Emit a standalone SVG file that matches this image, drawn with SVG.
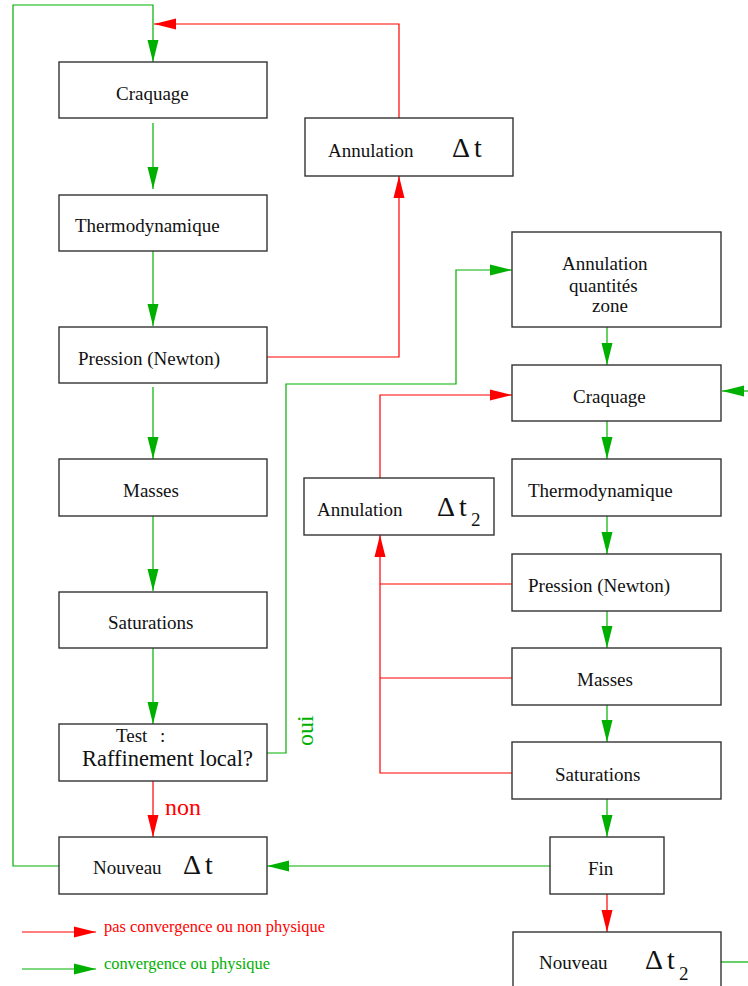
<svg xmlns="http://www.w3.org/2000/svg" width="748" height="986" viewBox="0 0 748 986">
<style>
.box{fill:#fff;stroke:#333;stroke-width:1.4}
.g{fill:none;stroke:#00b000;stroke-width:1.2}
.r{fill:none;stroke:#ff0000;stroke-width:1.2}
text{font-family:"Liberation Serif","Times New Roman",serif;fill:#111;font-size:19px}
.d{font-size:28px}
.s{font-size:19px}
</style>
<defs>
<marker id="ag" markerUnits="userSpaceOnUse" markerWidth="22" markerHeight="12" refX="22" refY="6" orient="auto"><path d="M0,0.5 L22,6 L0,11.5 z" fill="#00b000"/></marker>
<marker id="ar" markerUnits="userSpaceOnUse" markerWidth="22" markerHeight="12" refX="22" refY="6" orient="auto"><path d="M0,0.5 L22,6 L0,11.5 z" fill="#ff0000"/></marker>
</defs>
<rect width="748" height="986" fill="#fff"/>
<g id="connectors">
<path class="g" d="M59,866 H13 V5 H153 V62" marker-end="url(#ag)"/>
<path class="g" d="M153,123 V189" marker-end="url(#ag)"/>
<path class="g" d="M153,251 V326" marker-end="url(#ag)"/>
<path class="g" d="M153,387 V459" marker-end="url(#ag)"/>
<path class="g" d="M153,516 V591" marker-end="url(#ag)"/>
<path class="g" d="M153,648 V724" marker-end="url(#ag)"/>
<path class="g" d="M267,753 H286 V384 H456 V270 H512" marker-end="url(#ag)"/>
<path class="g" d="M607,327 V365" marker-end="url(#ag)"/>
<path class="g" d="M607,421 V459" marker-end="url(#ag)"/>
<path class="g" d="M607,516 V554" marker-end="url(#ag)"/>
<path class="g" d="M607,611 V648" marker-end="url(#ag)"/>
<path class="g" d="M607,705 V742" marker-end="url(#ag)"/>
<path class="g" d="M607,799 V837" marker-end="url(#ag)"/>
<path class="g" d="M550,866 H267" marker-end="url(#ag)"/>
<path class="g" d="M748,391 H722" marker-end="url(#ag)"/>
<path class="g" d="M721,962 H748"/>
<path class="r" d="M153,781 V837" marker-end="url(#ar)"/>
<path class="r" d="M267,357 H399 V176" marker-end="url(#ar)"/>
<path class="r" d="M399,118 V24 H154" marker-end="url(#ar)"/>
<path class="r" d="M380,478 V395 H512" marker-end="url(#ar)"/>
<path class="r" d="M512,584 H380 M512,678 H380"/>
<path class="r" d="M512,773 H380 V535" marker-end="url(#ar)"/>
<path class="r" d="M607,894 V932" marker-end="url(#ar)"/>
</g>
<g id="n-craquage1"><rect class="box" x="59" y="62" width="208" height="56"/><text x="116" y="100">Craquage</text></g>
<g id="n-thermo1"><rect class="box" x="59" y="195" width="208" height="56"/><text x="75" y="232">Thermodynamique</text></g>
<g id="n-pression1"><rect class="box" x="59" y="327" width="208" height="56"/><text x="78" y="365">Pression (Newton)</text></g>
<g id="n-masses1"><rect class="box" x="59" y="459" width="208" height="57"/><text x="123" y="497">Masses</text></g>
<g id="n-saturations1"><rect class="box" x="59" y="592" width="208" height="56"/><text x="108" y="629">Saturations</text></g>
<g id="n-test"><rect class="box" x="59" y="724" width="208" height="57"/><text x="116" y="742">Test<tspan x="160">:</tspan></text><text x="82" y="766" style="font-size:22.5px" textLength="171" lengthAdjust="spacingAndGlyphs">Raffinement local?</text></g>
<g id="n-nouveau1"><rect class="box" x="59" y="837" width="208" height="57"/><text x="93" y="874">Nouveau</text><text class="d" x="183" y="874">Δ<tspan x="205">t</tspan></text></g>
<g id="n-annul1"><rect class="box" x="305" y="118" width="208" height="58"/><text x="328" y="157">Annulation</text><text class="d" x="452" y="157">Δ<tspan x="474">t</tspan></text></g>
<g id="n-annulzone"><rect class="box" x="512" y="232" width="209" height="95"/><text x="562" y="270">Annulation</text><text x="569" y="292">quantités</text><text x="592" y="312">zone</text></g>
<g id="n-craquage2"><rect class="box" x="512" y="365" width="209" height="56"/><text x="573" y="403">Craquage</text></g>
<g id="n-thermo2"><rect class="box" x="512" y="459" width="209" height="57"/><text x="528" y="497">Thermodynamique</text></g>
<g id="n-pression2"><rect class="box" x="512" y="554" width="209" height="57"/><text x="528" y="592">Pression (Newton)</text></g>
<g id="n-masses2"><rect class="box" x="512" y="648" width="209" height="57"/><text x="577" y="686">Masses</text></g>
<g id="n-saturations2"><rect class="box" x="512" y="742" width="209" height="57"/><text x="555" y="781">Saturations</text></g>
<g id="n-annul2"><rect class="box" x="304" y="478" width="190" height="57"/><text x="317" y="516">Annulation</text><text class="d" x="437" y="516">Δ<tspan x="459">t</tspan></text><text class="s" x="471" y="526">2</text></g>
<g id="n-fin"><rect class="box" x="550" y="837" width="114" height="57"/><text x="588" y="875">Fin</text></g>
<g id="n-nouveau2"><rect class="box" x="513" y="932" width="208" height="64"/><text x="539" y="969">Nouveau</text><text class="d" x="645" y="969">Δ<tspan x="667">t</tspan></text><text class="s" x="679" y="980">2</text></g>
<g id="labels">
<text x="165" y="815" style="font-size:24px;fill:#ff0000">non</text>
<text transform="translate(313,746) rotate(-90)" style="font-size:24px;fill:#00b000">oui</text>
</g>
<g id="legend">
<path class="r" d="M22,932 H96" marker-end="url(#ar)"/>
<path class="g" d="M22,969 H96" marker-end="url(#ag)"/>
<text x="104" y="932" style="font-size:16px;fill:#ff0000" textLength="221" lengthAdjust="spacingAndGlyphs">pas convergence ou non physique</text>
<text x="104" y="969" style="font-size:16px;fill:#00b000" textLength="166" lengthAdjust="spacingAndGlyphs">convergence ou physique</text>
</g>
</svg>
